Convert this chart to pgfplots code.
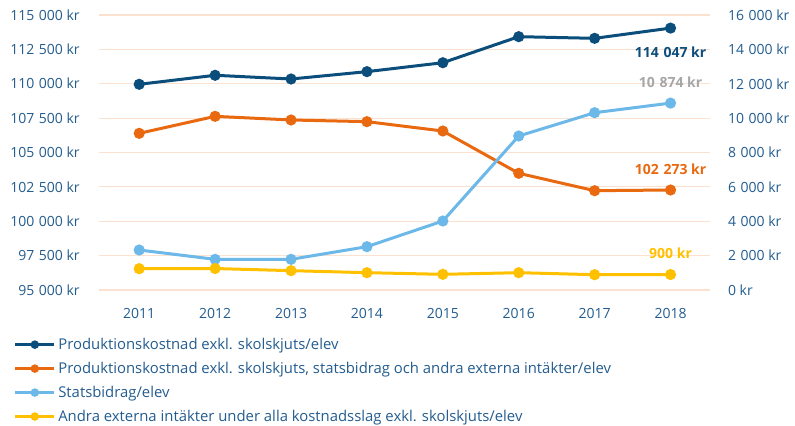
\documentclass[border=0pt]{standalone}
\usepackage{pgfplots}
\pgfplotsset{compat=1.18}
\usepackage{fontspec}
\setmainfont{Open Sans}
\definecolor{dblue}{HTML}{0B4E7C}
\definecolor{orng}{HTML}{E8690F}
\definecolor{lblue}{HTML}{6CB8E8}
\definecolor{yell}{HTML}{FFC000}
\definecolor{gridc}{HTML}{FBE2D0}
\definecolor{tickc}{HTML}{235C8E}
\definecolor{grayl}{HTML}{A6A6A6}
\begin{document}
\begin{tikzpicture}
\useasboundingbox (-74.25pt,-101.25pt) rectangle (522pt,217.5pt);
\pgfplotsset{
  common/.style={
    width=458.25pt, height=206.25pt, scale only axis,
    xmin=2010.47, xmax=2018.52,
    axis line style={draw=none}, tick style={draw=none},
    ticklabel style={font=\fontsize{10.5}{12}\selectfont, text=tickc},
    /pgf/number format/assume math mode=true,
    scaled y ticks=false,
    every axis plot/.append style={line width=2.25pt, mark=*, mark size=3pt},
    clip=false,
  },
}
\begin{axis}[common,
  ymin=95000, ymax=115000,
  ytick={95000,97500,100000,102500,105000,107500,110000,112500,115000},
  ymajorgrids, grid style={gridc, line width=0.8pt},
  xtick={2011,2012,2013,2014,2015,2016,2017,2018},
  xticklabels={2011,2012,2013,2014,2015,2016,2017,2018},
  xticklabel style={yshift=-10pt},
  yticklabel={\pgfmathprintnumber[fixed,precision=0,1000 sep={\hspace{0.33em}}]{\tick}\ kr},
  yticklabel style={xshift=-11pt},
]
\addplot[dblue, mark options={fill=dblue}] coordinates {
(2011,109960) (2012,110615) (2013,110345) (2014,110880) (2015,111530) (2016,113424) (2017,113303) (2018,114047)};
\addplot[orng, mark options={fill=orng}] coordinates {
(2011,106394) (2012,107630) (2013,107364) (2014,107243) (2015,106563) (2016,103487) (2017,102222) (2018,102273)};
\node[text=dblue, font=\fontsize{10.5}{12}\selectfont\bfseries] at (axis cs:2018,112300) {114\hspace{0.33em}047 kr};
\node[text=orng, font=\fontsize{10.5}{12}\selectfont\bfseries] at (axis cs:2018,103800) {102\hspace{0.33em}273 kr};
\end{axis}
\begin{axis}[common,
  ymin=0, ymax=16000,
  ytick={0,2000,4000,6000,8000,10000,12000,14000,16000},
  axis y line*=right, axis x line=none,
  yticklabel={\pgfmathprintnumber[fixed,precision=0,1000 sep={\hspace{0.33em}}]{\tick}\ kr},
  yticklabel style={xshift=10pt},
  legend style={at={(0,0)}, anchor=north west, xshift=-63.75pt, yshift=-34pt,
    draw=none, fill=none, font=\fontsize{11.15}{13}\selectfont, text=tickc,
    row sep=4pt, inner sep=0pt, outer sep=0pt},
  legend cell align=left,
  legend image code/.code={\draw[mark repeat=2,mark phase=2,#1, mark size=2pt] plot coordinates {(0pt,0pt)(14.5pt,0pt)(29pt,0pt)};},
]
\addlegendimage{dblue, line width=2.25pt, mark=*, mark options={fill=dblue}}
\addlegendentry{Produktionskostnad exkl. skolskjuts/elev}
\addlegendimage{orng, line width=2.25pt, mark=*, mark options={fill=orng}}
\addlegendentry{Produktionskostnad exkl. skolskjuts, statsbidrag och andra externa intäkter/elev}
\addplot[lblue, mark options={fill=lblue}] coordinates {
(2011,2327) (2012,1785) (2013,1785) (2014,2521) (2015,4014) (2016,8960) (2017,10317) (2018,10874)};
\addlegendentry{Statsbidrag/elev}
\addplot[yell, mark options={fill=yell}] coordinates {
(2011,1241) (2012,1250) (2013,1125) (2014,1008) (2015,912) (2016,1008) (2017,890) (2018,900)};
\addlegendentry{Andra externa intäkter under alla kostnadsslag exkl. skolskjuts/elev}
\node[text=grayl, font=\fontsize{10.5}{12}\selectfont\bfseries] at (axis cs:2018,12100) {10\hspace{0.33em}874 kr};
\node[text=yell, font=\fontsize{10.5}{12}\selectfont\bfseries] at (axis cs:2018,2150) {900 kr};
\end{axis}
\end{tikzpicture}
\end{document}
